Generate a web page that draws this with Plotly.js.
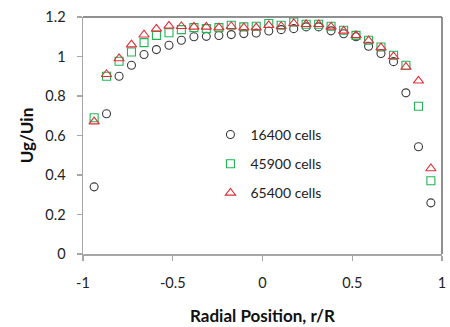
<!DOCTYPE html>
<html>
<head>
<meta charset="utf-8">
<script src="https://cdn.plot.ly/plotly-3.0.1.min.js"></script>
<style>
  html, body { margin: 0; padding: 0; background: #fff; }
  #chart { width: 450px; height: 327px; }
</style>
</head>
<body>
<div id="chart"></div>
<script>
// Radial positions (r/R) of the sampled points
const radialPos = [-0.938, -0.869, -0.799, -0.730, -0.660, -0.591, -0.521, -0.452, -0.382, -0.313,
                   -0.243, -0.174, -0.104, -0.035, 0.035, 0.104, 0.174, 0.243, 0.313, 0.382,
                   0.452, 0.521, 0.591, 0.660, 0.730, 0.799, 0.869, 0.938];

// Normalised gas velocity Ug/Uin for each mesh
const ug16400 = [0.34, 0.71, 0.90, 0.956, 1.01, 1.035, 1.057, 1.082, 1.10, 1.102,
                 1.106, 1.111, 1.116, 1.119, 1.129, 1.136, 1.141, 1.15, 1.15, 1.13,
                 1.115, 1.10, 1.052, 1.015, 0.974, 0.816, 0.543, 0.259];
const ug45900 = [0.69, 0.90, 0.976, 1.023, 1.07, 1.107, 1.12, 1.136, 1.146, 1.141,
                 1.146, 1.158, 1.15, 1.153, 1.167, 1.158, 1.175, 1.163, 1.163, 1.153,
                 1.133, 1.107, 1.082, 1.048, 1.006, 0.956, 0.748, 0.371];
const ug65400 = [0.67, 0.91, 0.99, 1.06, 1.11, 1.14, 1.155, 1.153, 1.15, 1.15,
                 1.146, 1.153, 1.146, 1.146, 1.158, 1.153, 1.167, 1.163, 1.163, 1.15,
                 1.13, 1.107, 1.08, 1.045, 1.0, 0.947, 0.877, 0.433];

const seriesNames = ['16400 cells', '45900 cells', '65400 cells'];
const xTickVals = [-1, -0.5, 0, 0.5, 1];
const xTickText = ['-1', '-0.5', '0', '0.5', '1'];
const yTickVals = [0, 0.2, 0.4, 0.6, 0.8, 1, 1.2];
const yTickText = ['0', '0.2', '0.4', '0.6', '0.8', '1', '1.2'];

const FONT = 'Lato, "Open Sans", sans-serif';

function series(y, name, symbol, color, size, group) {
  return {
    x: radialPos, y: y, name: name, type: 'scatter', mode: 'markers',
    legendgroup: group,
    marker: { symbol: symbol, size: size, color: color, line: { color: color, width: 1.1 } },
    hoverinfo: 'x+y+name'
  };
}

const data = [
  series(ug16400, seriesNames[0], 'circle-open', '#3a3a3a', 8, 'a'),
  series(ug45900, seriesNames[1], 'square-open', '#22b455', 8, 'b'),
  series(ug65400, seriesNames[2], 'triangle-up-open', '#de2f37', 9, 'c')
];

const layout = {
  width: 450, height: 327,
  margin: { l: 83, r: 8, t: 17, b: 73 },
  paper_bgcolor: '#fff', plot_bgcolor: '#fff',
  font: { family: FONT, size: 14, color: '#222' },
  showlegend: true,
  legend: {
    x: 0.355, y: 0.57, xanchor: 'left', yanchor: 'top',
    bgcolor: 'rgba(0,0,0,0)', borderwidth: 0,
    font: { family: FONT, size: 14, color: '#222' },
    traceorder: 'grouped', tracegroupgap: 8, itemwidth: 30
  },
  xaxis: {
    range: [-1, 1], tickvals: xTickVals, ticktext: xTickText,
    showgrid: false, zeroline: false,
    showline: true, linecolor: '#a6a6a6', linewidth: 1.5,
    ticks: 'outside', ticklen: 5, tickcolor: '#a6a6a6', tickwidth: 1.2,
    ticklabelstandoff: 10,
    tickfont: { family: FONT, size: 14.5, color: '#222' },
    title: { text: '<b>Radial Position, r/R</b>', font: { family: FONT, size: 17, color: '#111' }, standoff: 20 },
    fixedrange: true
  },
  yaxis: {
    range: [0, 1.2], tickvals: yTickVals, ticktext: yTickText,
    showgrid: false, zeroline: false,
    showline: true, linecolor: '#a6a6a6', linewidth: 1.5,
    ticks: 'outside', ticklen: 5, tickcolor: '#a6a6a6', tickwidth: 1.2,
    ticklabelstandoff: 8,
    tickfont: { family: FONT, size: 14.5, color: '#222' },
    title: { text: '<b>Ug/Uin</b>', font: { family: FONT, size: 17, color: '#111' }, standoff: 7 },
    fixedrange: true
  },
  shapes: [
    // darker frame along the top and right edges of the plot area
    { type: 'line', xref: 'paper', yref: 'paper', x0: 0, x1: 1, y0: 1, y1: 1,
      line: { color: '#6b6b6b', width: 1.5 } },
    { type: 'line', xref: 'paper', yref: 'paper', x0: 1, x1: 1, y0: 0, y1: 1,
      line: { color: '#6b6b6b', width: 1.5 } }
  ]
};

Plotly.newPlot('chart', data, layout, { staticPlot: true, displayModeBar: false });
</script>
</body>
</html>
